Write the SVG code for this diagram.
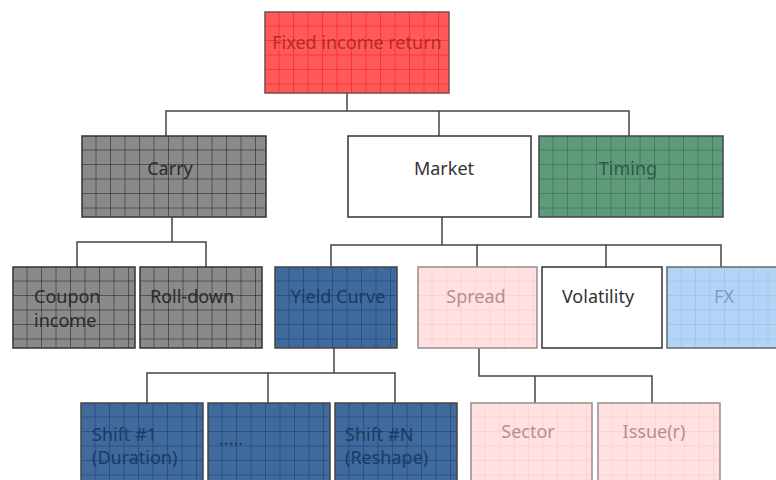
<svg xmlns="http://www.w3.org/2000/svg" width="776" height="480" viewBox="0 0 776 480">
<style>
text{font-family:"Noto Sans","Open Sans","Liberation Sans",sans-serif;font-size:18px}
.c{text-anchor:middle}
.conn{fill:none;stroke:#444;stroke-width:1.5}
.red{fill:url(#pRed);stroke:#7a4a4a;stroke-width:1.5}
.gray{fill:url(#pGray);stroke:#333;stroke-width:1.5}
.green{fill:url(#pGreen);stroke:#444;stroke-width:1.5}
.blue{fill:url(#pBlue);stroke:#444;stroke-width:1.5}
.pink{fill:url(#pPink);stroke:#9a8a8a;stroke-width:1.5}
.sky{fill:url(#pSky);stroke:#666;stroke-width:1.5}
.white{fill:#fff;stroke:#333;stroke-width:1.5}
</style>
<defs>
<pattern id="pRed" patternUnits="userSpaceOnUse" width="14.5" height="14.5"><rect width="14.5" height="14.5" fill="#ff5a5a"/><path d="M14.5 0V14.5M0 14.5H14.5" stroke="#ff1010" stroke-width="1"/></pattern>
<pattern id="pGray" patternUnits="userSpaceOnUse" width="14.5" height="14.5"><rect width="14.5" height="14.5" fill="#8a8a8a"/><path d="M14.5 0V14.5M0 14.5H14.5" stroke="#1a1a1a" stroke-width="1"/></pattern>
<pattern id="pGreen" patternUnits="userSpaceOnUse" width="14.5" height="14.5"><rect width="14.5" height="14.5" fill="#5f9a7b"/><path d="M14.5 0V14.5M0 14.5H14.5" stroke="#1f6844" stroke-width="1"/></pattern>
<pattern id="pBlue" patternUnits="userSpaceOnUse" width="14.5" height="14.5"><rect width="14.5" height="14.5" fill="#40699c"/><path d="M14.5 0V14.5M0 14.5H14.5" stroke="#0d3a78" stroke-width="1"/></pattern>
<pattern id="pPink" patternUnits="userSpaceOnUse" width="14.5" height="14.5"><rect width="14.5" height="14.5" fill="#ffe1e1"/><path d="M14.5 0V14.5M0 14.5H14.5" stroke="#ffc4c4" stroke-width="1"/></pattern>
<pattern id="pSky" patternUnits="userSpaceOnUse" width="14.5" height="14.5"><rect width="14.5" height="14.5" fill="#b4d4f6"/><path d="M14.5 0V14.5M0 14.5H14.5" stroke="#90bcec" stroke-width="1"/></pattern>
</defs>

<g id="connectors">
<path class="conn" d="M347 93V111M166 136V111H629V136M439 111V136"/>
<path class="conn" d="M172 217V242M77 267V242H206V267"/>
<path class="conn" d="M442 217V245M331 268V245H721V268M477 245V268M606 245V268"/>
<path class="conn" d="M334 348V373M147 403V373H395V403M268 373V403"/>
<path class="conn" d="M479 348V376H652V403M535 376V403"/>
</g>

<g id="fixed-income-return" transform="translate(265,12)">
<rect class="red" width="184" height="81"/>
<text class="c" x="92" y="37" fill="#a82020" fill-opacity="0.85">Fixed income return</text>
</g>

<g id="carry" transform="translate(82,136)">
<rect class="gray" width="184" height="81"/>
<text class="c" x="88" y="39" fill="#2a2a2a">Carry</text>
</g>
<g id="market" transform="translate(348,136)">
<rect class="white" width="183" height="81"/>
<text class="c" x="96" y="39" fill="#333">Market</text>
</g>
<g id="timing" transform="translate(539,136)">
<rect class="green" width="184" height="81"/>
<text class="c" x="89" y="39" fill="#2b5a42">Timing</text>
</g>

<g id="coupon-income" transform="translate(13,267)">
<rect class="gray" width="122" height="81"/>
<text x="21" y="36" fill="#2a2a2a">Coupon</text>
<text x="21" y="60" fill="#2a2a2a">income</text>
</g>
<g id="roll-down" transform="translate(140,267)">
<rect class="gray" width="122" height="81"/>
<text x="10" y="36" fill="#2a2a2a">Roll-down</text>
</g>
<g id="yield-curve" transform="translate(275,267)">
<rect class="blue" width="122" height="81"/>
<text class="c" x="63" y="36" fill="#1c3a66">Yield Curve</text>
</g>
<g id="spread" transform="translate(418,267)">
<rect class="pink" width="119" height="81"/>
<text class="c" x="58" y="36" fill="#b09090">Spread</text>
</g>
<g id="volatility" transform="translate(542,267)">
<rect class="white" width="120" height="81"/>
<text class="c" x="56" y="36" fill="#333">Volatility</text>
</g>
<g id="fx" transform="translate(667,267)">
<rect class="sky" width="112" height="81"/>
<text class="c" x="57" y="36" fill="#7e9cc0">FX</text>
</g>

<g id="shift-1" transform="translate(81,403)">
<rect class="blue" width="122" height="80"/>
<text x="11" y="38" fill="#1c3a66">Shift #1</text>
<text x="11" y="61" fill="#1c3a66">(Duration)</text>
</g>
<g id="ellipsis" transform="translate(208,403)">
<rect class="blue" width="122" height="80"/>
<text x="11" y="42" fill="#1c3a66">.....</text>
</g>
<g id="shift-n" transform="translate(335,403)">
<rect class="blue" width="122" height="80"/>
<text x="10" y="38" fill="#1c3a66">Shift #N</text>
<text x="10" y="61" fill="#1c3a66">(Reshape)</text>
</g>
<g id="sector" transform="translate(471,403)">
<rect class="pink" width="121" height="80"/>
<text class="c" x="57" y="35" fill="#b09090">Sector</text>
</g>
<g id="issuer" transform="translate(598,403)">
<rect class="pink" width="122" height="80"/>
<text class="c" x="56" y="35" fill="#b09090">Issue(r)</text>
</g>
</svg>
